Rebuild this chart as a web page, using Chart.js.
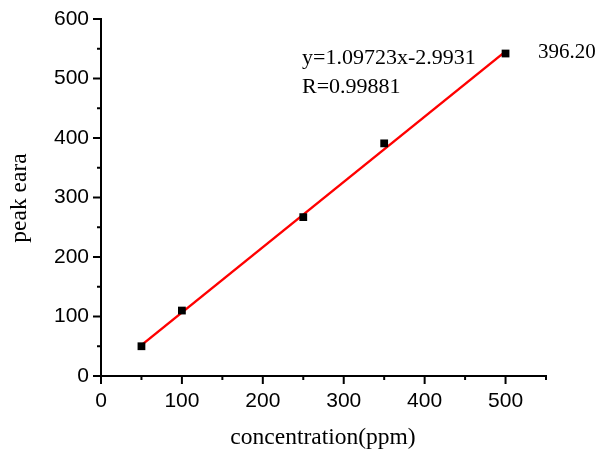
<!DOCTYPE html>
<html>
<head>
<meta charset="utf-8">
<script src="https://cdn.jsdelivr.net/npm/chart.js@4.4.0/dist/chart.umd.min.js"></script>
<style>
  html, body { margin: 0; padding: 0; background: #fff; }
  #wrap { width: 600px; height: 454px; }
</style>
</head>
<body>
<div id="wrap"><canvas id="fitChart"></canvas></div>
<script>
/* data */
const concentration = [50, 100, 250, 350, 500];
const peakArea = [50, 110, 267, 391, 542];
const fitSlope = 1.09723;
const fitIntercept = -2.9931;
const fitRange = [50, 500];
const xTicks = [0, 100, 200, 300, 400, 500];
const yTicks = [0, 100, 200, 300, 400, 500, 600];
const equationText = 'y=1.09723x-2.9931';
const rText = 'R=0.99881';
const sideLabel = '396.20';

const points = concentration.map((c, i) => ({ x: c, y: peakArea[i] }));
const fitLine = fitRange.map(x => ({ x: x, y: fitSlope * x + fitIntercept }));

const serif = '"Liberation Serif", "Times New Roman", serif';
const sans = '"Liberation Sans", Arial, sans-serif';

/* ticks (major + minor, outward) and the text on the canvas */
const extrasPlugin = {
    id: 'extras',
    afterDraw(chart) {
        const ctx = chart.ctx;
        const xs = chart.scales.x;
        const ys = chart.scales.y;
        const area = chart.chartArea;
        ctx.save();
        ctx.strokeStyle = '#000';
        ctx.lineWidth = 2;
        for (let v = 0; v <= 550; v += 50) {
            const px = xs.getPixelForValue(v);
            const len = (v % 100 === 0) ? 8 : 4;
            ctx.beginPath();
            ctx.moveTo(px, area.bottom);
            ctx.lineTo(px, area.bottom + len);
            ctx.stroke();
        }
        for (let v = 0; v <= 600; v += 50) {
            const py = ys.getPixelForValue(v);
            const len = (v % 100 === 0) ? 8 : 4;
            ctx.beginPath();
            ctx.moveTo(area.left, py);
            ctx.lineTo(area.left - len, py);
            ctx.stroke();
        }

        ctx.fillStyle = '#000';
        ctx.textBaseline = 'middle';
        ctx.textAlign = 'left';
        ctx.font = '22px ' + serif;
        ctx.fillText(equationText, 302, 58);
        ctx.fillText(rText, 302, 87);
        ctx.font = '21px ' + serif;
        ctx.fillText(sideLabel, 538, 52);

        ctx.font = '23.5px ' + serif;
        ctx.textAlign = 'center';
        ctx.fillText('concentration(ppm)', 323, 438);
        ctx.translate(20, 198);
        ctx.rotate(-Math.PI / 2);
        ctx.fillText('peak eara', 0, 0);
        ctx.restore();
    }
};

new Chart(document.getElementById('fitChart'), {
    type: 'scatter',
    data: {
        datasets: [{
            label: 'fit',
            type: 'line',
            data: fitLine,
            borderColor: '#ff0000',
            borderWidth: 2.5,
            pointRadius: 0,
            fill: false,
            order: 2
        }, {
            label: 'peak eara',
            data: points,
            pointStyle: 'rect',
            pointRadius: 5.5,
            backgroundColor: '#000',
            borderColor: '#000',
            borderWidth: 0,
            order: 1
        }]
    },
    options: {
        responsive: true,
        maintainAspectRatio: false,
        animation: false,
        layout: { padding: { left: 0, top: 19, right: 54, bottom: 0 } },
        plugins: {
            legend: { display: false },
            tooltip: { enabled: false }
        },
        scales: {
            x: {
                type: 'linear',
                min: 0,
                max: 550,
                afterBuildTicks: s => { s.ticks = xTicks.map(v => ({ value: v })); },
                afterFit: s => { s.height = 78; s.paddingLeft = 0; s.paddingRight = 0; },
                grid: { display: false, drawTicks: false },
                border: { display: true, color: '#000', width: 2 },
                ticks: {
                    color: '#000',
                    padding: 13,
                    maxRotation: 0,
                    font: { family: sans, size: 21 }
                }
            },
            y: {
                type: 'linear',
                min: 0,
                max: 600,
                afterBuildTicks: s => { s.ticks = yTicks.map(v => ({ value: v })); },
                afterFit: s => { s.width = 101; s.paddingTop = 0; s.paddingBottom = 0; },
                grid: { display: false, drawTicks: false },
                border: { display: true, color: '#000', width: 2 },
                ticks: {
                    color: '#000',
                    padding: 12,
                    font: { family: sans, size: 21 }
                }
            }
        }
    },
    plugins: [extrasPlugin]
});
</script>
</body>
</html>
